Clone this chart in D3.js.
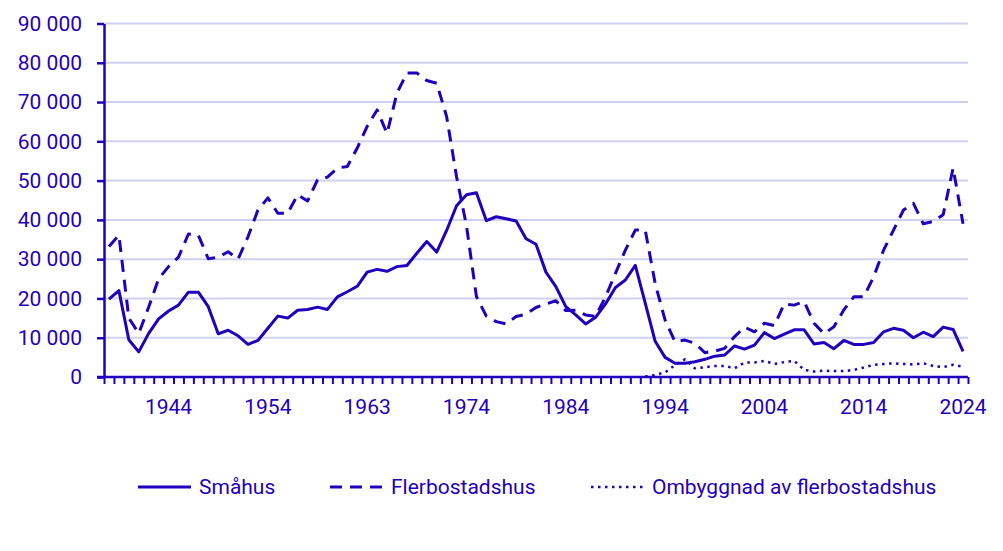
<!DOCTYPE html>
<html>
<head>
<meta charset="utf-8">
<script src="https://cdn.jsdelivr.net/npm/d3@7"></script>
<style>
  body { margin: 0; background: #fff; }
  text { font-family: Roboto, "Noto Sans", sans-serif; }
</style>
</head>
<body>
<div id="chart"></div>
<script>
// years 1938-2024
var years = d3.range(1938, 2025);

var smahus = [
  19800, 22000, 9500, 6400, 11100, 14800, 16800, 18300, 21600, 21600,
  17900, 11000, 11900, 10500, 8300, 9300, 12400, 15500, 15000, 17000,
  17200, 17800, 17200, 20400, 21700, 23100, 26700, 27400, 26900, 28100,
  28400, 31500, 34500, 31800, 37300, 43600, 46400, 46900, 39800, 40800,
  40300, 39700, 35200, 33800, 26700, 23000, 17900, 15800, 13500, 15200,
  18600, 22800, 24700, 28400, 18800, 9100, 5000, 3500, 3500, 3900,
  4500, 5300, 5600, 7900, 7100, 8100, 11300, 9800, 10900, 12000,
  12000, 8400, 8800, 7200, 9300, 8300, 8300, 8800, 11500, 12400,
  11900, 10000, 11400, 10300, 12700, 12100, 6500
];

var flerbostadshus = [
  33200, 36100, 15000, 11100, 17800, 25000, 28100, 30500, 36400, 36100,
  30100, 30500, 31900, 30000, 35700, 42500, 45600, 41700, 41700, 46400,
  44800, 50200, 50900, 53200, 53600, 58300, 63800, 68000, 62000, 72300,
  77400, 77400, 75500, 74800, 66300, 51000, 38500, 20500, 15500, 14100,
  13500, 15400, 16000, 17700, 18600, 19400, 16900, 17000, 15800, 15400,
  20400, 26400, 32300, 37400, 37400, 23800, 14500, 9000, 9400, 8600,
  6200, 6600, 7300, 10300, 12700, 11500, 13700, 13100, 18600, 18300,
  19200, 13700, 11000, 12800, 17100, 20400, 20400, 25500, 32300, 37400,
  42500, 44200, 39000, 39600, 41300, 53200, 39000
];

// only from 1992
var ombyggnad = [
  null, null, null, null, null, null, null, null, null, null,
  null, null, null, null, null, null, null, null, null, null,
  null, null, null, null, null, null, null, null, null, null,
  null, null, null, null, null, null, null, null, null, null,
  null, null, null, null, null, null, null, null, null, null,
  null, null, null, null, 100, 500, 1200, 3000, 4500, 2200,
  2500, 2800, 2800, 2200, 3700, 3700, 4100, 3300, 3800, 4100,
  1800, 1400, 1600, 1500, 1500, 1800, 2400, 3100, 3300, 3500,
  3300, 3200, 3500, 2800, 2500, 3100, 2600
];

var xTickLabels = ["1944", "1954", "1963", "1974", "1984", "1994", "2004", "2014", "2024"];
var xTickIndex = [6, 16, 26, 36, 46, 56, 66, 76, 86];
var yTicks = d3.range(0, 90001, 10000);

var seriesNames = ["Småhus", "Flerbostadshus", "Ombyggnad av flerbostadshus"];
var seriesData = [smahus, flerbostadshus, ombyggnad];
var dashes = [null, "12,8", "2.5,4.5"];

var color = "#1e00be";
var gridColor = "#d0d0f0";
var fontSize = "21px";

var W = 1003, H = 551;
var margin = {top: 23.5, right: 35, bottom: 174, left: 104};
var width = W - margin.left - margin.right,
    height = H - margin.top - margin.bottom;

var svg = d3.select("#chart")
  .append("svg")
    .attr("width", W)
    .attr("height", H)
  .append("g")
    .attr("transform", "translate(" + margin.left + "," + margin.top + ")");

var x = d3.scaleLinear()
  .domain([0, years.length])
  .range([0, width]);

var y = d3.scaleLinear()
  .domain([0, 90000])
  .range([height, 0]);

var fmt = d3.formatLocale({decimal: ",", thousands: " ", grouping: [3], currency: ["", ""]}).format(",");

// gridlines
svg.append("g")
  .selectAll("line")
  .data(yTicks.slice(1))
  .enter()
  .append("line")
    .attr("x1", 0)
    .attr("x2", width)
    .attr("y1", function(d) { return y(d); })
    .attr("y2", function(d) { return y(d); })
    .style("stroke", gridColor)
    .style("stroke-width", 2);

// Y axis
var yAxis = svg.append("g")
  .call(d3.axisLeft(y).tickValues(yTicks).tickSize(7).tickSizeOuter(0).tickPadding(15).tickFormat(fmt));
yAxis.select(".domain").style("stroke", color).style("stroke-width", 2.5);
yAxis.selectAll("line").style("stroke", color).style("stroke-width", 2.5);
yAxis.selectAll("text")
  .style("fill", color)
  .style("font-size", fontSize);

// X axis ticks (band edges)
var xAxis = svg.append("g")
  .attr("transform", "translate(0," + height + ")")
  .call(d3.axisBottom(x).tickValues(d3.range(years.length + 1)).tickSize(7).tickSizeOuter(0).tickFormat(""));
xAxis.select(".domain").remove();
xAxis.selectAll("line").style("stroke", color).style("stroke-width", 2);

svg.append("line")
  .attr("x1", -7)
  .attr("x2", width)
  .attr("y1", height)
  .attr("y2", height)
  .style("stroke", color)
  .style("stroke-width", 2.5);

// X labels at band centers
svg.append("g")
  .selectAll("text")
  .data(xTickIndex)
  .enter()
  .append("text")
    .attr("x", function(d) { return x(d + 0.5); })
    .attr("y", height + 30)
    .attr("dy", "0.35em")
    .attr("text-anchor", "middle")
    .style("fill", color)
    .style("font-size", fontSize)
    .text(function(d, i) { return xTickLabels[i]; });

// lines
var line = d3.line()
  .defined(function(d) { return d != null; })
  .x(function(d, i) { return x(i + 0.5); })
  .y(function(d) { return y(d); });

seriesData.forEach(function(s, k) {
  svg.append("path")
    .datum(s)
    .attr("d", line)
    .attr("fill", "none")
    .attr("stroke", color)
    .attr("stroke-width", k == 2 ? 2.5 : 3)
    .attr("stroke-linejoin", "round")
    .attr("stroke-dasharray", dashes[k]);
});

// legend
var legendX = [138, 330, 591];
var legend = svg.append("g")
  .attr("transform", "translate(" + (-margin.left) + "," + (487 - margin.top) + ")");

seriesNames.forEach(function(name, k) {
  legend.append("line")
    .attr("x1", legendX[k])
    .attr("x2", legendX[k] + 53)
    .attr("y1", 0)
    .attr("y2", 0)
    .attr("stroke", color)
    .attr("stroke-width", k == 2 ? 2.5 : 3)
    .attr("stroke-dasharray", dashes[k]);
  legend.append("text")
    .attr("x", legendX[k] + 61)
    .attr("y", 0)
    .attr("dy", "0.35em")
    .style("fill", color)
    .style("font-size", fontSize)
    .text(name);
});
</script>
</body>
</html>
